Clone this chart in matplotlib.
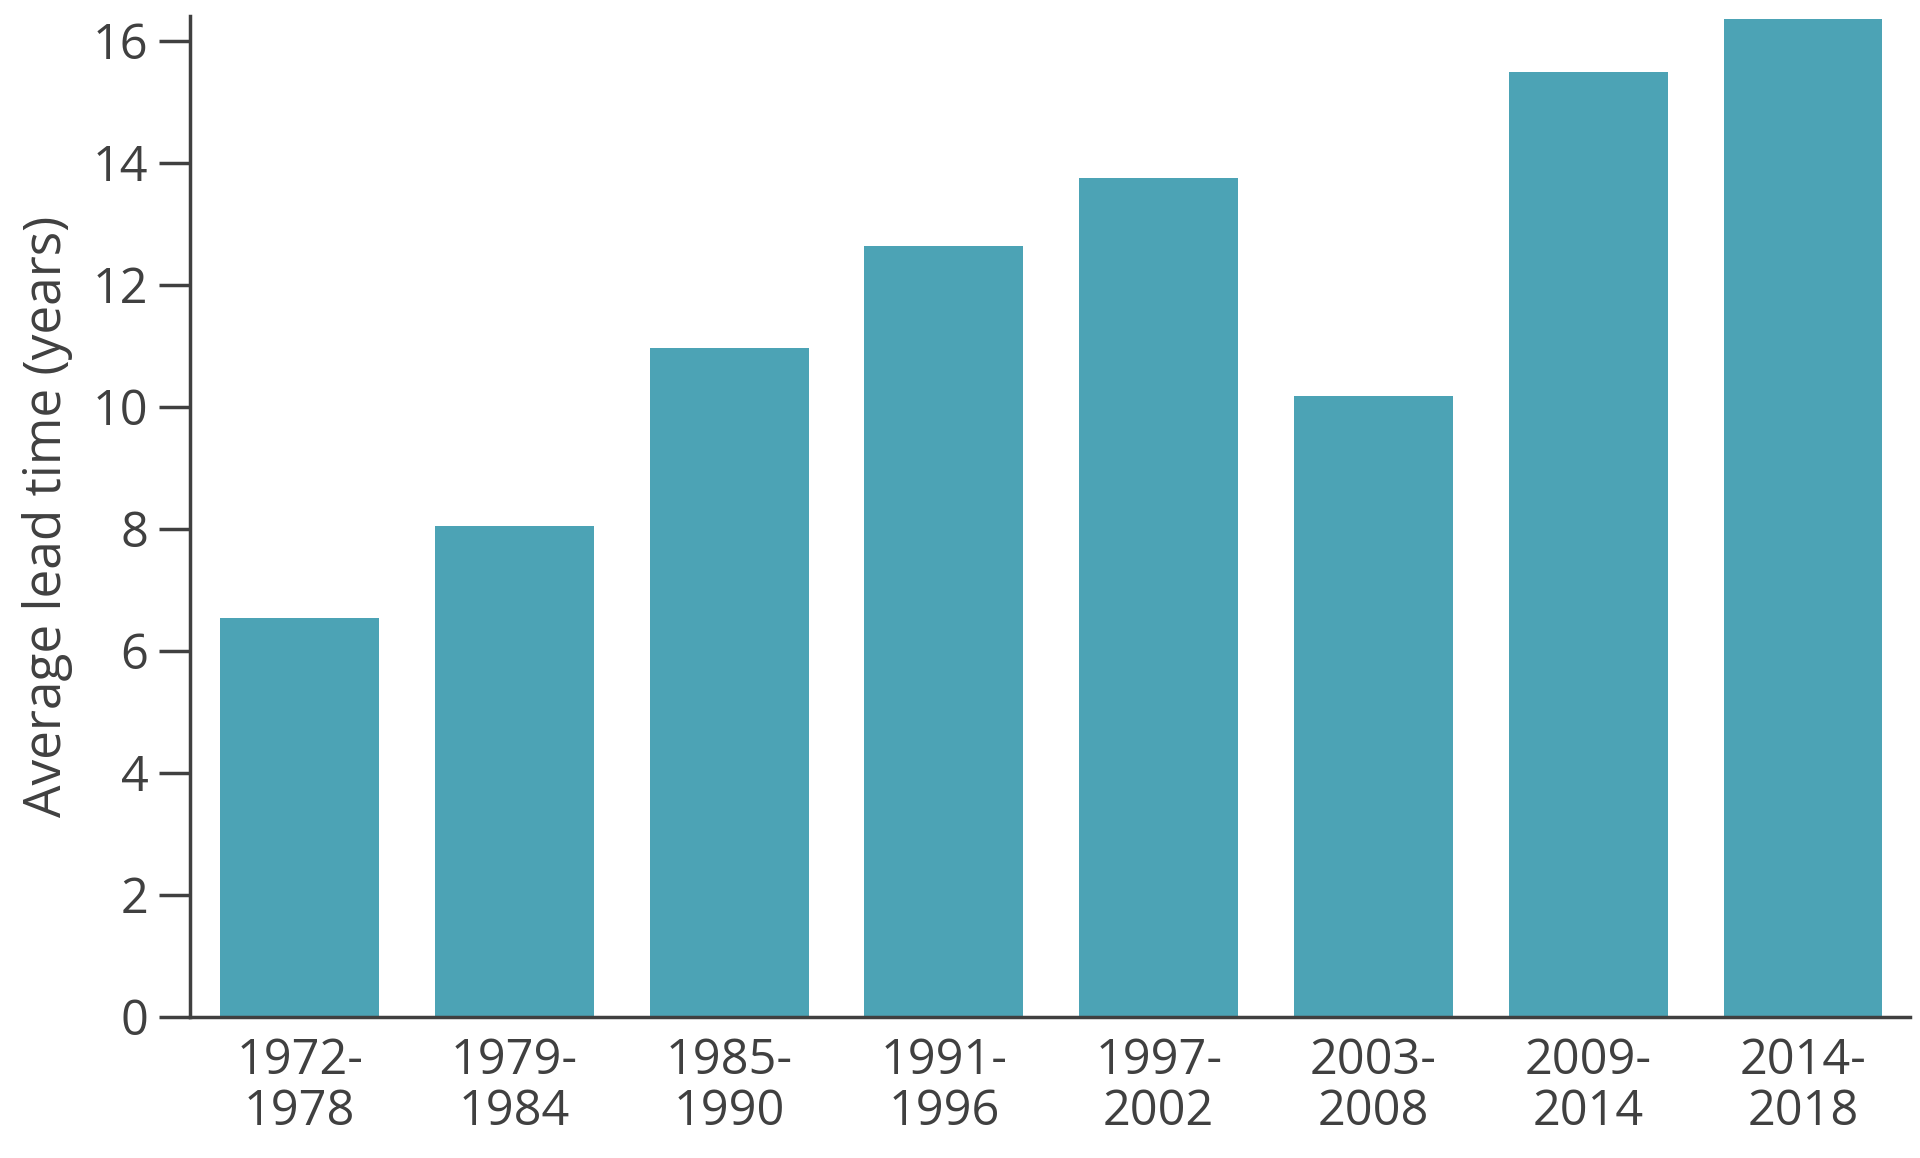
import matplotlib
matplotlib.use("Agg")
import matplotlib.pyplot as plt

categories = ["1972-\n1978", "1979-\n1984", "1985-\n1990", "1991-\n1996",
              "1997-\n2002", "2003-\n2008", "2009-\n2014", "2014-\n2018"]
values = [6.54, 8.04, 10.96, 12.64, 13.74, 10.18, 15.48, 16.36]
yticks = [0, 2, 4, 6, 8, 10, 12, 14, 16]

txt = "#404040"
plt.rcParams["font.family"] = "Open Sans"
fig = plt.figure(figsize=(19.2, 11.58), dpi=100)
ax = fig.add_axes([0.099, 0.122, 0.896, 0.864])
ax.bar(range(len(values)), values, width=0.74, color="#4CA3B5")
ax.set_xlim(-0.51, 7.5)
ax.set_ylim(0, 16.4)
ax.set_yticks(yticks)
ax.set_xticks(range(len(values)))
ax.set_xticklabels(categories, fontsize=35, color=txt, linespacing=1.05)
ax.tick_params(axis="y", labelsize=35, colors=txt, length=22, width=2.5, pad=8)
ax.tick_params(axis="x", length=0, pad=14, colors=txt)
for s in ["top", "right"]:
    ax.spines[s].set_visible(False)
for s in ["left", "bottom"]:
    ax.spines[s].set_color(txt)
    ax.spines[s].set_linewidth(2.5)
ax.set_ylabel("Average lead time (years)", fontsize=37, color=txt, labelpad=14)
fig.savefig("out.png", dpi=100)
